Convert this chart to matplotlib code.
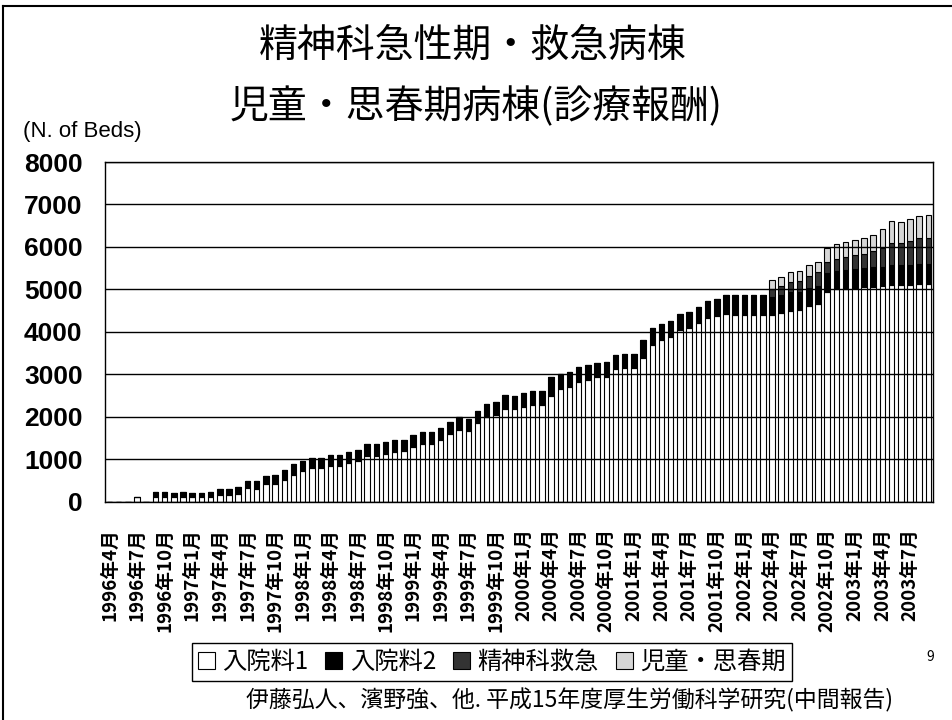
import numpy as np
import matplotlib.pyplot as plt
from matplotlib.lines import Line2D

plt.rcParams['font.family'] = ['Noto Sans CJK JP', 'DejaVu Sans']

# monthly categories 1996年4月 .. 2003年9月
months = [f'{1996 + (3 + k) // 12}年{(3 + k) % 12 + 1}月' for k in range(90)]

# 入院料1
nyuin1 = [0, 0, 0, 110, 0, 115, 115, 110, 115, 110,
          110, 125, 155, 155, 185, 320, 315, 420, 430, 515,
          645, 730, 800, 790, 850, 850, 910, 970, 1080, 1080,
          1120, 1180, 1190, 1290, 1360, 1360, 1450, 1590, 1700, 1660,
          1850, 2000, 2050, 2190, 2180, 2240, 2290, 2290, 2490, 2660,
          2700, 2820, 2870, 2930, 2950, 3120, 3160, 3160, 3380, 3690,
          3810, 3890, 4040, 4090, 4210, 4340, 4380, 4420, 4410, 4400,
          4390, 4390, 4400, 4450, 4500, 4520, 4600, 4650, 4950, 5000,
          5020, 5040, 5050, 5070, 5080, 5100, 5100, 5110, 5120, 5130]
# 入院料2
nyuin2 = [0, 0, 0, 0, 0, 110, 110, 105, 110, 105,
          105, 115, 140, 140, 160, 180, 180, 200, 200, 240,
          250, 230, 230, 240, 250, 250, 260, 260, 280, 280,
          280, 280, 280, 280, 290, 290, 290, 300, 300, 300,
          300, 310, 310, 320, 320, 320, 330, 330, 450, 360,
          350, 350, 350, 350, 350, 340, 330, 330, 440, 400,
          380, 380, 380, 380, 380, 400, 400, 440, 450, 460,
          470, 480, 420, 420, 430, 430, 440, 440, 440, 440,
          450, 450, 450, 460, 460, 470, 470, 470, 480, 480]
# 精神科救急 (from 2002年4月)
kyukyu = [0] * 72 + [200, 210, 245, 255, 280, 315, 260, 280, 300, 325,
                     340, 375, 425, 535, 520, 550, 600, 610]
# 児童・思春期 (from 2002年4月)
jidou = [0] * 72 + [200, 220, 230, 230, 250, 250, 330, 340, 350, 350,
                    360, 370, 450, 500, 500, 520, 530, 540]

fig = plt.figure(figsize=(9.53, 7.2), dpi=100)
ax = fig.add_axes([0.110, 0.3028, 0.869, 0.4722])

x = np.arange(len(months))
w = 0.6
s1 = np.array(nyuin1)
s2 = np.array(nyuin2)
s3 = np.array(kyukyu)
s4 = np.array(jidou)

ax.bar(x, s1, w, color='white', edgecolor='black', lw=0.8, label='入院料1')
ax.bar(x, s2, w, bottom=s1, color='black', edgecolor='black', lw=0.8, label='入院料2')
ax.bar(x, s3, w, bottom=s1 + s2, color='#333333', edgecolor='black', lw=0.8, label='精神科救急')
ax.bar(x, s4, w, bottom=s1 + s2 + s3, color='#d6d6d6', edgecolor='black', lw=0.8, label='児童・思春期')

ax.set_xlim(-0.5, len(months) - 0.5)
ax.set_ylim(0, 8000)
ax.set_yticks(range(0, 8001, 1000))
ax.yaxis.grid(True, color='black', lw=1)
ax.set_axisbelow(False)
for sp in ax.spines.values():
    sp.set_color('black')
    sp.set_linewidth(1)

ax.set_xticks(x[::3])
ax.set_xticklabels(months[::3], rotation=90, fontsize=13.5, fontweight='bold')
ax.tick_params(axis='x', length=0, pad=19)
ax.tick_params(axis='y', length=0, pad=16, labelsize=19, labelfontfamily='Liberation Sans')
for lbl in ax.get_yticklabels():
    lbl.set_fontweight('bold')

fig.text(0.496, 0.936, '精神科急性期・救急病棟', ha='center', va='center', fontsize=28)
fig.text(0.5, 0.852, '児童・思春期病棟(診療報酬)', ha='center', va='center', fontsize=28)
fig.text(0.086, 0.818, '(N. of Beds)', ha='center', va='center', fontsize=16,
         family='Liberation Sans')

fig.legend(loc='center', bbox_to_anchor=(0.516, 0.081), ncol=4, frameon=True,
           fancybox=False, edgecolor='black', framealpha=1, fontsize=17.5,
           handlelength=0.7, handleheight=0.7, handletextpad=0.3,
           columnspacing=0.7, borderpad=0.25, borderaxespad=0)

fig.text(0.976, 0.088, '9', ha='center', va='center', fontsize=10)
fig.text(0.598, 0.028, '伊藤弘人、濱野強、他. 平成15年度厚生労働科学研究(中間報告)',
         ha='center', va='center', fontsize=16.5)

# slide frame
fig.add_artist(Line2D([0.003, 0.003], [0, 0.992], transform=fig.transFigure, color='black', lw=1.5))
fig.add_artist(Line2D([0.003, 1], [0.992, 0.992], transform=fig.transFigure, color='black', lw=1.5))

fig.savefig('out.png', dpi=100)
